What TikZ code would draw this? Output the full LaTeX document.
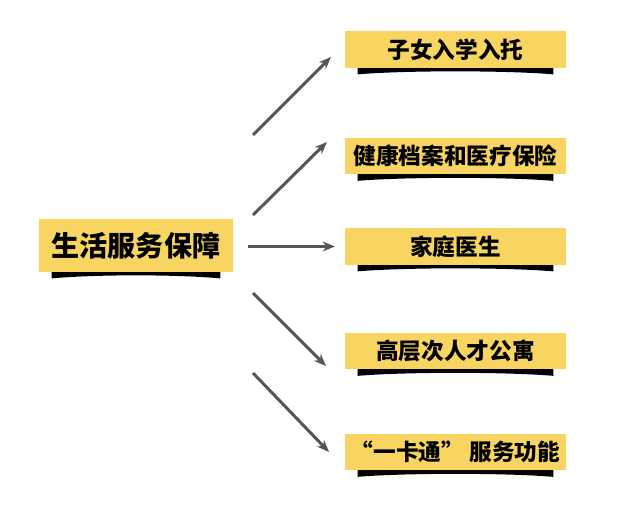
\documentclass[tikz,border=0pt]{standalone}
\usepackage{fontspec}
\newfontfamily\cjk{Noto Sans CJK SC}[BoldFont={Noto Sans CJK SC Black}]
\usetikzlibrary{arrows.meta,calc,backgrounds}
\definecolor{boxyellow}{RGB}{248,212,96}
\definecolor{arrowgray}{RGB}{85,85,85}

\begin{document}
\begin{tikzpicture}[x=0.02cm, y=-0.02cm,
    box/.style={fill=boxyellow, minimum width=4.42cm, minimum height=0.74cm,
                inner sep=0pt, align=center,
                font=\cjk\bfseries\fontsize{12.9}{15}\selectfont},
    link/.style={arrowgray, line width=1.7pt,
                 -{Stealth[length=7pt,width=5.5pt]}}]
  \useasboundingbox (0,0) rectangle (640,507);
  %% Main topic
  \node[box, minimum width=3.88cm, minimum height=1.06cm,
        font=\cjk\bfseries\fontsize{16}{18}\selectfont] (life) at (136,245.5) {生活服务保障};
  %% Services
  \node[box] (kids)   at (455.5, 49.5) {子女入学入托};
  \node[box] (health) at (455.5,156.0) {健康档案和医疗保险};
  \node[box] (doctor) at (455.5,246.5) {家庭医生};
  \node[box] (flat)   at (455.5,351.0) {高层次人才公寓};
  \node[box] (card)   at (455.5,452.0) {“一卡通” 服务功能};
  %% Page and shadows
  \begin{scope}[on background layer]
    \fill[white] (0,0) rectangle (640,507);
    \foreach \n in {life,kids,health,doctor,flat,card}{
      \fill[black] ($(\n.south west)+(13,-2)$) -- ($(\n.south east)+(-13,-2)$)
        -- ($(\n.south east)+(-13,6)$)
        .. controls ($(\n.south east)+(-60,2)$) and ($(\n.south west)+(60,2)$)
        .. ($(\n.south west)+(13,6)$) -- cycle;
    }
  \end{scope}
  %% Arrow ends
  \coordinate (s1) at (253,135);   \coordinate (e1) at (331, 57);
  \coordinate (s2) at (253,215);   \coordinate (e2) at (327,142);
  \coordinate (s3) at (248,246.5); \coordinate (e3) at (335,246.5);
  \coordinate (s4) at (253,293);   \coordinate (e4) at (326,366);
  \coordinate (s5) at (253,373);   \coordinate (e5) at (329,452);
  %% Arrows
  \foreach \i in {1,...,5}{
    \draw[link] (s\i) -- (e\i);
  }
\end{tikzpicture}
\end{document}
